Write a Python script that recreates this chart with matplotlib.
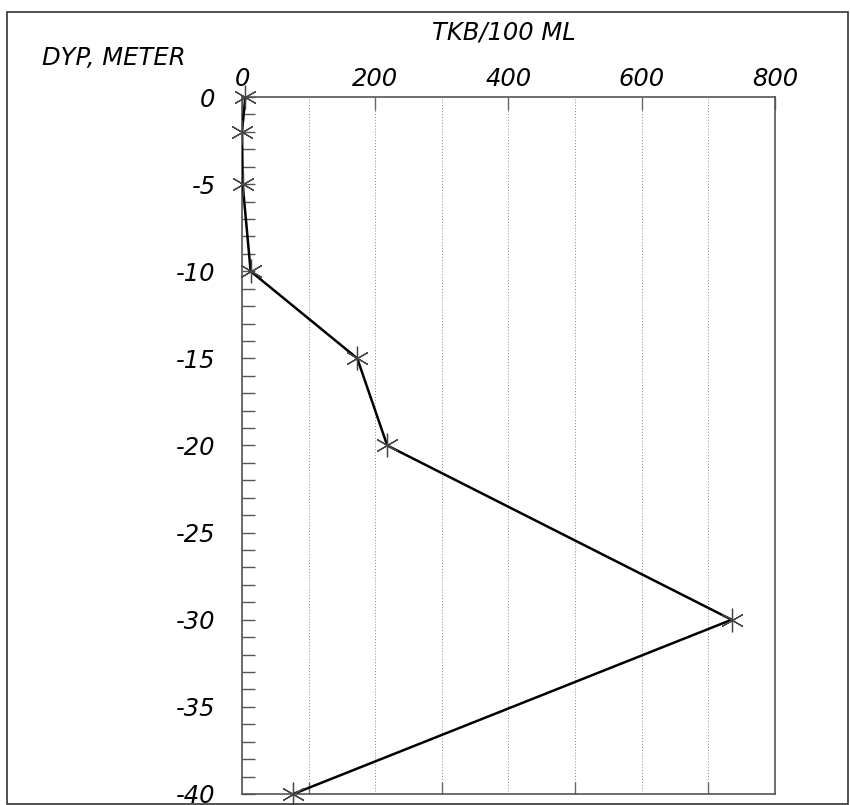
import matplotlib
matplotlib.use("Agg")
import matplotlib.pyplot as plt
from matplotlib.patches import Rectangle

# depth profile values
depth = [0, -2, -5, -10, -15, -20, -30, -40]
tkb = [5, 0, 1, 13, 173, 218, 735, 77]

x_ticks = [0, 200, 400, 600, 800]
y_ticks = [0, -5, -10, -15, -20, -25, -30, -35, -40]

plt.rcParams["font.family"] = ["DejaVu Sans"]
font = dict(style="italic", fontsize=17.5)

fig = plt.figure(figsize=(8.5, 8.05), dpi=100)
ax = fig.add_axes([0.2847, 0.0137, 0.627, 0.8658])

ax.plot(tkb, depth, color="black", lw=1.8, zorder=3)
ax.plot(tkb, depth, ls="none", marker=(6, 2, 0), ms=17, mew=0.9,
        color="#444444", zorder=4, clip_on=False)

ax.set_xlim(0, 800)
ax.set_ylim(-40, 0)

# top axis labels
ax.xaxis.tick_top()
ax.set_xticks(x_ticks)
ax.set_xticklabels([str(v) for v in x_ticks], **font)
ax.tick_params(axis="x", which="major", direction="in", length=9, width=1,
               color="#666666", pad=4, top=True, bottom=False)
ax.set_xticks(range(100, 800, 100), minor=True)
ax.tick_params(axis="x", which="minor", direction="in", length=9, width=1,
               color="#666666", top=False, bottom=True)
ax.grid(axis="x", which="both", ls=(0, (1, 2)), lw=0.7, color="#888888")

ax.set_yticks(y_ticks)
ax.set_yticklabels([str(v) for v in y_ticks], **font)
ax.set_yticks(range(-40, 1), minor=True)
ax.tick_params(axis="y", which="both", direction="in", length=9, width=1,
               color="#555555", pad=19)

for s in ax.spines.values():
    s.set_color("#555555")
    s.set_linewidth(1.2)

fig.text(42 / 850, 1 - 58 / 805, "DYP, METER", ha="left", va="center",
         **font)
fig.text(504 / 850, 1 - 32 / 805, "TKB/100 ML", ha="center", va="center",
         **font)

fig.patches.append(Rectangle((7 / 850, 1 / 805), 841 / 850, 792 / 805,
                             transform=fig.transFigure, fill=False,
                             lw=1.2, ec="#333333"))

fig.savefig("out.png", dpi=100)
